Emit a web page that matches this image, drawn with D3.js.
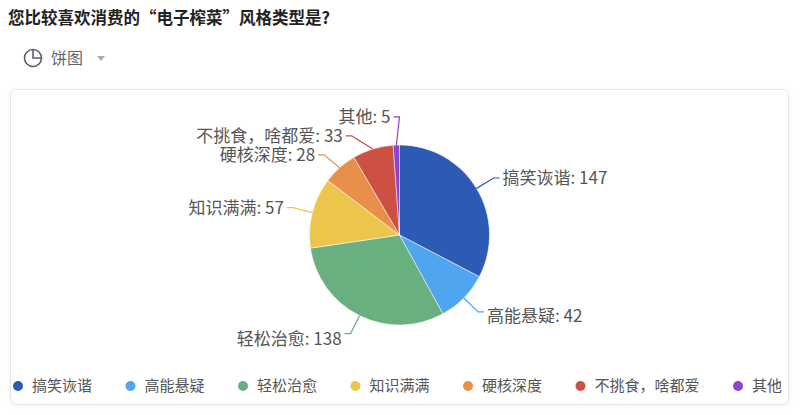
<!DOCTYPE html>
<html>
<head>
<meta charset="utf-8">
<script src="https://cdn.jsdelivr.net/npm/d3@7"></script>
<style>
  body { margin: 0; background: #fff; font-family: "Noto Sans CJK SC", "Noto Sans", sans-serif; }
  svg { display: block; }
</style>
</head>
<body>
<div id="chart"></div>
<script>
const categories = ["搞笑诙谐", "高能悬疑", "轻松治愈", "知识满满", "硬核深度", "不挑食，啥都爱", "其他"]
const values = [147, 42, 138, 57, 28, 33, 5]
const palette = ["#2c5ab4", "#4fa6ee", "#6aaf80", "#ecc54c", "#e8904a", "#cd5143", "#8b44d0"]

const width = 800
const height = 415
const font = '"Noto Sans CJK SC", "Noto Sans", sans-serif'

const cx = 399.5, cy = 235, radius = 90
const len1 = 20, len2 = 6, minGap = 19

const data = categories.map((c, i) => ({name: c, value: values[i], color: palette[i]}))

const svg = d3.select("#chart").append("svg")
  .attr("width", width)
  .attr("height", height)
  .style("font-family", font)

// title
svg.append("text")
  .attr("x", 8).attr("y", 24)
  .attr("font-size", 16.5).attr("font-weight", "bold")
  .attr("fill", "#222")
  .text("您比较喜欢消费的“电子榨菜”风格类型是?")

// chart type dropdown
const dd = svg.append("g").attr("transform", "translate(33,58)")
dd.append("circle").attr("r", 8.5).attr("fill", "none").attr("stroke", "#5a5f6b").attr("stroke-width", 1.6)
dd.append("path").attr("d", "M0,-8.5 V0 H8.5").attr("fill", "none").attr("stroke", "#5a5f6b").attr("stroke-width", 1.6)
dd.append("text").attr("x", 18).attr("y", 6).attr("font-size", 16).attr("fill", "#666").text("饼图")
dd.append("path").attr("d", "M64,-2 L72,-2 L68,3 Z").attr("fill", "#aaa")

// card
svg.append("rect")
  .attr("x", 10.5).attr("y", 89.5)
  .attr("width", 778).attr("height", 315)
  .attr("rx", 6)
  .attr("fill", "#fff")
  .attr("stroke", "#e6e6e6")
  .style("filter", "drop-shadow(0 1px 2px rgba(0,0,0,0.06))")

const pie = d3.pie().value(d => d.value).sort(null)
const arcs = pie(data)
const arc = d3.arc().innerRadius(0).outerRadius(radius)

const g = svg.append("g").attr("transform", `translate(${cx},${cy})`)

g.selectAll("path.slice")
  .data(arcs)
  .join("path")
  .attr("class", "slice")
  .attr("d", arc)
  .attr("fill", d => d.data.color)
  .attr("stroke", "#fff")
  .attr("stroke-width", 0.5)

// label layout (echarts-like)
const R = radius + len1
const labels = arcs.map(d => {
  const a = (d.startAngle + d.endAngle) / 2
  const sx = Math.sin(a), sy = -Math.cos(a)
  const right = a < Math.PI
  return {
    d: d, right: right,
    p1: [sx * radius, sy * radius],
    p2: [sx * R, sy * R],
    y: sy * R, y0: sy * R
  }
})

function relax(list){
  list.sort((a, b) => a.y - b.y)
  for (let k = 0; k < 30; k++) {
    for (let i = 1; i < list.length; i++) {
      const gap = list[i].y - list[i - 1].y
      if (gap < minGap) {
        const shift = (minGap - gap) / 2
        list[i].y += shift
        list[i - 1].y -= shift
      }
    }
  }
}
relax(labels.filter(l => l.right))
relax(labels.filter(l => !l.right))

labels.forEach(l => {
  const dir = l.right ? 1 : -1
  let x2 = l.p2[0]
  if (Math.abs(l.y - l.y0) > 0.5) {
    x2 = dir * Math.sqrt(Math.max(0, R * R - l.y * l.y))
  }
  const p2 = [x2, l.y]
  const p3 = [p2[0] + dir * len2, l.y]
  g.append("path")
    .attr("d", `M${l.p1[0]},${l.p1[1]} L${p2[0]},${p2[1]} L${p3[0]},${p3[1]}`)
    .attr("fill", "none")
    .attr("stroke", l.d.data.color)
    .attr("stroke-width", 1.2)
  // labels below the centre sit a little under their line end
  const drop = Math.max(0, l.y / R) * 6
  g.append("text")
    .attr("x", p3[0] + dir * 3)
    .attr("y", l.y + drop)
    .attr("dy", "0.35em")
    .attr("text-anchor", l.right ? "start" : "end")
    .attr("font-size", 17)
    .attr("fill", "#555")
    .text(`${l.d.data.name}: ${l.d.data.value}`)
})

// legend
const legend = svg.append("g").attr("transform", "translate(0,386)")
const items = legend.selectAll("g.item")
  .data(data)
  .join("g")
  .attr("class", "item")
items.append("circle").attr("r", 5).attr("fill", d => d.color)
items.append("text")
  .attr("x", 14).attr("dy", "0.35em")
  .attr("font-size", 15).attr("fill", "#555")
  .text(d => d.name)

const widths = items.nodes().map(n => 14 + d3.select(n).select("text").node().getComputedTextLength())
const startX = 18, endX = 787
const total = d3.sum(widths) + 5
const gap = (endX - startX - total) / (data.length - 1)
let xPos = startX
items.attr("transform", (d, i) => {
  const t = `translate(${xPos},0)`
  xPos += widths[i] + gap
  return t
})
</script>
</body>
</html>
